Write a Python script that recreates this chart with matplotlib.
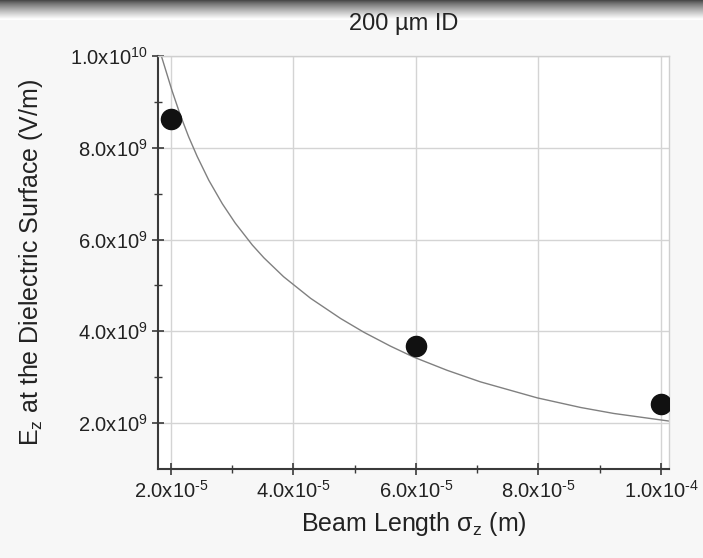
import numpy as np
import matplotlib.pyplot as plt
from matplotlib.ticker import FixedLocator

plt.rcParams['font.family'] = ['Liberation Sans', 'DejaVu Sans']
plt.rcParams['mathtext.fontset'] = 'custom'
plt.rcParams['mathtext.rm'] = 'Liberation Sans'
plt.rcParams['mathtext.it'] = 'Liberation Sans:italic'
plt.rcParams['mathtext.default'] = 'regular'

# measured points
beam_length = [2.0e-5, 6.0e-5, 1.0e-4]
ez_surface = [8.62e9, 3.67e9, 2.42e9]

# fit curve
fit_x = [1.845e-5, 2.02e-5, 2.155e-5, 2.29e-5, 2.43e-5, 2.62e-5, 2.84e-5,
         3.05e-5, 3.33e-5, 3.52e-5, 3.84e-5, 4.28e-5, 4.77e-5, 5.15e-5,
         5.58e-5, 5.96e-5, 6.51e-5, 7.05e-5, 7.98e-5, 8.69e-5, 9.23e-5,
         1.0155e-4]
fit_y = [1.0e10, 9.24e9, 8.71e9, 8.24e9, 7.81e9, 7.29e9, 6.78e9,
         6.36e9, 5.88e9, 5.60e9, 5.19e9, 4.72e9, 4.28e9, 3.98e9,
         3.68e9, 3.44e9, 3.15e9, 2.90e9, 2.55e9, 2.34e9, 2.21e9,
         2.04e9]

x_ticks = [2e-5, 4e-5, 6e-5, 8e-5, 1e-4]
x_tick_labels = ['2.0x10$^{\\text{-}5}$', '4.0x10$^{\\text{-}5}$',
                 '6.0x10$^{\\text{-}5}$', '8.0x10$^{\\text{-}5}$',
                 '1.0x10$^{\\text{-}4}$']
y_ticks = [2e9, 4e9, 6e9, 8e9, 1e10]
y_tick_labels = ['2.0x10$^{9}$', '4.0x10$^{9}$', '6.0x10$^{9}$',
                 '8.0x10$^{9}$', '1.0x10$^{10}$']

fig = plt.figure(figsize=(7.03, 5.58), dpi=100)
fig.patch.set_facecolor('#f7f7f7')

# grey band across the top
band = fig.add_axes([0, 1 - 20 / 558, 1, 20 / 558])
grad = np.linspace(0, 1, 60).reshape(-1, 1) ** 0.8
band.imshow(grad, aspect='auto', cmap='gray', vmin=-0.35, vmax=0.97,
            extent=[0, 1, 0, 1])
band.axis('off')

ax = fig.add_axes([158 / 703, 1 - 469 / 558, 511 / 703, 413 / 558])
ax.set_facecolor('white')

ax.plot(fit_x, fit_y, color='#808080', lw=1.0, zorder=2)
ax.plot(beam_length, ez_surface, 'o', color='#111111', ms=14.5, zorder=3)

ax.set_xlim(1.79e-5, 1.013e-4)
ax.set_ylim(1.0e9, 1.0e10)

ax.xaxis.set_major_locator(FixedLocator(x_ticks))
ax.set_xticklabels(x_tick_labels)
ax.xaxis.set_minor_locator(FixedLocator([3e-5, 5e-5, 7e-5, 9e-5]))
ax.yaxis.set_major_locator(FixedLocator(y_ticks))
ax.set_yticklabels(y_tick_labels)
ax.yaxis.set_minor_locator(FixedLocator([3e9, 5e9, 7e9, 9e9]))

ax.grid(True, which='major', color='#d4d4d4', lw=1.0)
ax.set_axisbelow(True)

for side in ['top', 'right']:
    ax.spines[side].set_color('#cfcfcf')
    ax.spines[side].set_linewidth(1.0)
for side in ['left', 'bottom']:
    ax.spines[side].set_color('#3a3a3a')
    ax.spines[side].set_linewidth(1.5)

ax.tick_params(which='major', direction='inout', length=9, width=1.2,
               color='#3a3a3a', labelsize=14.5, labelcolor='#222222', pad=3)
ax.tick_params(which='minor', direction='inout', length=6, width=1.0,
               color='#3a3a3a')

ax.set_xlabel('Beam Length σ$_z$ (m)', fontsize=18, color='#222222', labelpad=6)
ax.set_ylabel('E$_z$ at the Dielectric Surface (V/m)', fontsize=18,
              color='#222222', labelpad=18)
ax.set_title('200 µm ID', fontsize=17, color='#222222', pad=19, x=0.48)

fig.savefig('out.png', dpi=100, facecolor=fig.get_facecolor())
